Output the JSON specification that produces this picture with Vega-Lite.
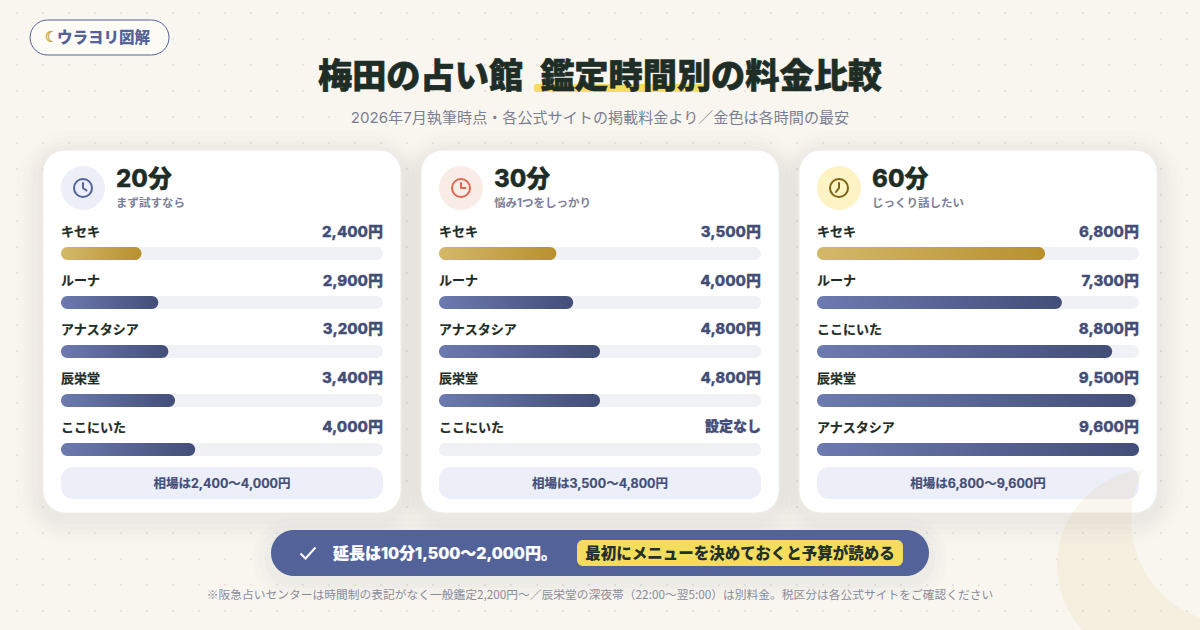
{
  "$schema": "https://vega.github.io/schema/vega-lite/v6.json",
  "width": 1200,
  "height": 630,
  "padding": 0,
  "autosize": {"type": "none"},
  "background": "#f9f6ef",
  "config": {
    "view": {"stroke": null},
    "font": "Inter, 'Noto Sans CJK JP', sans-serif"
  },
  "datasets": {
    "cards": [
      {"card": "20分", "note": "まず試すなら", "range": "相場は2,400〜4,000円"},
      {"card": "30分", "note": "悩み1つをしっかり", "range": "相場は3,500〜4,800円"},
      {"card": "60分", "note": "じっくり話したい", "range": "相場は6,800〜9,600円"}
    ],
    "prices": [
      {"card": "20分", "rank": 1, "name": "キセキ", "price": 2400, "label": "2,400円"},
      {"card": "20分", "rank": 2, "name": "ルーナ", "price": 2900, "label": "2,900円"},
      {"card": "20分", "rank": 3, "name": "アナスタシア", "price": 3200, "label": "3,200円"},
      {"card": "20分", "rank": 4, "name": "辰栄堂", "price": 3400, "label": "3,400円"},
      {"card": "20分", "rank": 5, "name": "ここにいた", "price": 4000, "label": "4,000円"},
      {"card": "30分", "rank": 1, "name": "キセキ", "price": 3500, "label": "3,500円"},
      {"card": "30分", "rank": 2, "name": "ルーナ", "price": 4000, "label": "4,000円"},
      {"card": "30分", "rank": 3, "name": "アナスタシア", "price": 4800, "label": "4,800円"},
      {"card": "30分", "rank": 4, "name": "辰栄堂", "price": 4800, "label": "4,800円"},
      {"card": "30分", "rank": 5, "name": "ここにいた", "price": null, "label": "設定なし"},
      {"card": "60分", "rank": 1, "name": "キセキ", "price": 6800, "label": "6,800円"},
      {"card": "60分", "rank": 2, "name": "ルーナ", "price": 7300, "label": "7,300円"},
      {"card": "60分", "rank": 3, "name": "ここにいた", "price": 8800, "label": "8,800円"},
      {"card": "60分", "rank": 4, "name": "辰栄堂", "price": 9500, "label": "9,500円"},
      {"card": "60分", "rank": 5, "name": "アナスタシア", "price": 9600, "label": "9,600円"}
    ],
    "dots": [
      {"dot": -3.9082}, {"dot": -3.3776}, {"dot": -2.8469}, {"dot": -2.3163}, {"dot": -1.7857}, {"dot": -1.2551},
      {"dot": -0.7245}, {"dot": -0.1939}, {"dot": 0.3367}, {"dot": 0.8673}, {"dot": 1.398}, {"dot": 1.9286},
      {"dot": 2.4592}, {"dot": 2.9898}, {"dot": 3.5204}, {"dot": 4.051}, {"dot": 4.5816}, {"dot": 5.1122},
      {"dot": 5.6429}, {"dot": 6.1735}, {"dot": 6.7041}, {"dot": 7.2347}, {"dot": 7.7653}, {"dot": 8.2959}
    ],
    "one": [{"id": 1}]
  },
  "data": {"name": "one"},
  "layer": [
    {
      "data": {"name": "dots"},
      "mark": {"type": "rule", "stroke": "#dfddd7", "strokeWidth": 1.8, "strokeCap": "round", "strokeDash": [0, 26], "strokeDashOffset": 13},
      "encoding": {
        "y": {"field": "dot", "type": "quantitative", "axis": null, "scale": {"domain": [-4.1735, 8.6837], "reverse": true, "nice": false, "zero": false, "padding": 0}}
      }
    },
    {
      "data": {"name": "cards"},
      "mark": {"type": "rect", "cornerRadius": 30, "fill": "#2f3650", "stroke": "#2f3650", "strokeWidth": 52, "opacity": 0.004, "xOffset": {"expr": "indexof(['20分','30分','60分'],datum.card)*378"}, "x2Offset": {"expr": "indexof(['20分','30分','60分'],datum.card)*378"}},
      "encoding": {
        "x": {"datum": -537, "axis": null, "scale": {"domain": [-1818.6, 33957.8], "nice": false, "zero": false, "padding": 0}},
        "x2": {"datum": 10137},
        "y": {"datum": -0.99},
        "y2": {"datum": 6.418}
      }
    },
    {
      "data": {"name": "cards"},
      "mark": {"type": "rect", "cornerRadius": 28, "fill": "#2f3650", "stroke": "#2f3650", "strokeWidth": 40, "opacity": 0.005, "xOffset": {"expr": "indexof(['20分','30分','60分'],datum.card)*378"}, "x2Offset": {"expr": "indexof(['20分','30分','60分'],datum.card)*378"}},
      "encoding": {
        "x": {"datum": -537},
        "x2": {"datum": 10137},
        "y": {"datum": -0.99},
        "y2": {"datum": 6.418}
      }
    },
    {
      "data": {"name": "cards"},
      "mark": {"type": "rect", "cornerRadius": 26, "fill": "#2f3650", "stroke": "#2f3650", "strokeWidth": 30, "opacity": 0.006, "xOffset": {"expr": "indexof(['20分','30分','60分'],datum.card)*378"}, "x2Offset": {"expr": "indexof(['20分','30分','60分'],datum.card)*378"}},
      "encoding": {
        "x": {"datum": -537},
        "x2": {"datum": 10137},
        "y": {"datum": -0.99},
        "y2": {"datum": 6.418}
      }
    },
    {
      "data": {"name": "cards"},
      "mark": {"type": "rect", "cornerRadius": 24, "fill": "#2f3650", "stroke": "#2f3650", "strokeWidth": 20, "opacity": 0.007, "xOffset": {"expr": "indexof(['20分','30分','60分'],datum.card)*378"}, "x2Offset": {"expr": "indexof(['20分','30分','60分'],datum.card)*378"}},
      "encoding": {
        "x": {"datum": -537},
        "x2": {"datum": 10137},
        "y": {"datum": -0.99},
        "y2": {"datum": 6.418}
      }
    },
    {
      "data": {"name": "cards"},
      "mark": {"type": "rect", "cornerRadius": 22, "fill": "#2f3650", "stroke": "#2f3650", "strokeWidth": 10, "opacity": 0.008, "xOffset": {"expr": "indexof(['20分','30分','60分'],datum.card)*378"}, "x2Offset": {"expr": "indexof(['20分','30分','60分'],datum.card)*378"}},
      "encoding": {
        "x": {"datum": -537},
        "x2": {"datum": 10137},
        "y": {"datum": -0.99},
        "y2": {"datum": 6.418}
      }
    },
    {
      "data": {"name": "cards"},
      "mark": {"type": "rect", "cornerRadius": 22, "fill": "#ffffff", "stroke": "#efece6", "strokeWidth": 1, "xOffset": {"expr": "indexof(['20分','30分','60分'],datum.card)*378"}, "x2Offset": {"expr": "indexof(['20分','30分','60分'],datum.card)*378"}},
      "encoding": {
        "x": {"datum": -537},
        "x2": {"datum": 10137},
        "y": {"datum": -1.112},
        "y2": {"datum": 6.296}
      }
    },
    {
      "data": {"name": "cards"},
      "mark": {"type": "rect", "cornerRadius": 12, "fill": "#eceff8", "xOffset": {"expr": "indexof(['20分','30分','60分'],datum.card)*378"}, "x2Offset": {"expr": "indexof(['20分','30分','60分'],datum.card)*378"}},
      "encoding": {
        "x": {"datum": 0},
        "x2": {"datum": 9600},
        "y": {"datum": 5.357},
        "y2": {"datum": 6.01}
      }
    },
    {
      "data": {"name": "cards"},
      "mark": {"type": "text", "fontSize": 12.5, "fontWeight": 700, "fill": "#434e78", "stroke": "#434e78", "strokeWidth": 0.2, "align": "center", "baseline": "middle", "xOffset": {"expr": "indexof(['20分','30分','60分'],datum.card)*378"}},
      "encoding": {
        "x": {"datum": 4800},
        "y": {"datum": 5.714},
        "text": {"field": "range"}
      }
    },
    {
      "data": {"name": "cards"},
      "mark": {"type": "point", "shape": "circle", "size": 1936, "filled": true, "opacity": 1, "xOffset": {"expr": "indexof(['20分','30分','60分'],datum.card)*378"}},
      "encoding": {
        "x": {"datum": 656},
        "y": {"datum": -0.337},
        "fill": {"field": "card", "type": "nominal", "legend": null, "scale": {"domain": ["20分", "30分", "60分"], "range": ["#eceff8", "#f9ece7", "#fdf3c4"]}}
      }
    },
    {
      "data": {"name": "cards"},
      "mark": {"type": "point", "size": 4, "filled": false, "strokeWidth": 2, "opacity": 1, "strokeCap": "round", "strokeJoin": "round", "xOffset": {"expr": "indexof(['20分','30分','60分'],datum.card)*378"}},
      "encoding": {
        "x": {"datum": 656},
        "y": {"datum": -0.337},
        "stroke": {"field": "card", "type": "nominal", "legend": null, "scale": {"domain": ["20分", "30分", "60分"], "range": ["#53639a", "#e0664f", "#7a6510"]}},
        "shape": {"field": "card", "type": "nominal", "legend": null, "scale": {"domain": ["20分", "30分", "60分"], "range": [
          "M-9,0A9,9,0,1,0,9,0A9,9,0,1,0,-9,0ZM0,-5L0,0L3.5,2.5",
          "M-9,0A9,9,0,1,0,9,0A9,9,0,1,0,-9,0ZM0,-5L0,0L4.5,0",
          "M-9,0A9,9,0,1,0,9,0A9,9,0,1,0,-9,0ZM0,-5L0,0L-3,4"
        ]}}
      }
    },
    {
      "data": {"name": "cards"},
      "mark": {"type": "text", "fontSize": 24, "fontWeight": 800, "fill": "#1f2d27", "stroke": "#1f2d27", "strokeWidth": 0.3, "align": "left", "baseline": "middle", "xOffset": {"expr": "indexof(['20分','30分','60分'],datum.card)*378"}},
      "encoding": {
        "x": {"datum": 1640},
        "y": {"datum": -0.51},
        "text": {"field": "card"}
      }
    },
    {
      "data": {"name": "cards"},
      "mark": {"type": "text", "fontSize": 11.5, "fontWeight": 700, "fill": "#7d8098", "align": "left", "baseline": "middle", "xOffset": {"expr": "indexof(['20分','30分','60分'],datum.card)*378"}},
      "encoding": {
        "x": {"datum": 1640},
        "y": {"datum": -0.02},
        "text": {"field": "note"}
      }
    },
    {
      "data": {"name": "prices"},
      "mark": {"type": "bar", "orient": "horizontal", "size": 13, "cornerRadius": 6.5, "fill": "#f0f1f5", "xOffset": {"expr": "indexof(['20分','30分','60分'],datum.card)*378"}, "x2Offset": {"expr": "indexof(['20分','30分','60分'],datum.card)*378"}},
      "encoding": {
        "x": {"datum": 0},
        "x2": {"datum": 9600},
        "y": {"field": "rank", "type": "quantitative"}
      }
    },
    {
      "data": {"name": "prices"},
      "transform": [{"filter": "datum.price != null && datum.rank > 1"}],
      "mark": {
        "type": "bar",
        "orient": "horizontal",
        "size": 13,
        "cornerRadius": 6.5,
        "xOffset": {"expr": "indexof(['20分','30分','60分'],datum.card)*378"},
        "x2Offset": {"expr": "indexof(['20分','30分','60分'],datum.card)*378"},
        "fill": {"gradient": "linear", "x1": 0, "x2": 1, "y1": 0, "y2": 0, "stops": [{"offset": 0, "color": "#6c7ab0"}, {"offset": 1, "color": "#434e78"}]}
      },
      "encoding": {
        "x": {"field": "price", "type": "quantitative"},
        "x2": {"datum": 0},
        "y": {"field": "rank", "type": "quantitative"}
      }
    },
    {
      "data": {"name": "prices"},
      "transform": [{"filter": "datum.rank == 1"}],
      "mark": {
        "type": "bar",
        "orient": "horizontal",
        "size": 13,
        "cornerRadius": 6.5,
        "xOffset": {"expr": "indexof(['20分','30分','60分'],datum.card)*378"},
        "x2Offset": {"expr": "indexof(['20分','30分','60分'],datum.card)*378"},
        "fill": {"gradient": "linear", "x1": 0, "x2": 1, "y1": 0, "y2": 0, "stops": [{"offset": 0, "color": "#d4b86a"}, {"offset": 1, "color": "#b8902e"}]}
      },
      "encoding": {
        "x": {"field": "price", "type": "quantitative"},
        "x2": {"datum": 0},
        "y": {"field": "rank", "type": "quantitative"}
      }
    },
    {
      "data": {"name": "prices"},
      "mark": {"type": "text", "fontSize": 13, "fontWeight": 700, "fill": "#1f2d27", "stroke": "#1f2d27", "strokeWidth": 0.2, "align": "left", "baseline": "middle", "dy": -21.5, "xOffset": {"expr": "indexof(['20分','30分','60分'],datum.card)*378"}},
      "encoding": {
        "x": {"datum": 0},
        "y": {"field": "rank", "type": "quantitative"},
        "text": {"field": "name"}
      }
    },
    {
      "data": {"name": "prices"},
      "mark": {"type": "text", "fontWeight": 800, "fill": "#434e78", "stroke": "#434e78", "strokeWidth": 0.3, "align": "right", "baseline": "middle", "dy": -22, "xOffset": {"expr": "indexof(['20分','30分','60分'],datum.card)*378"}},
      "encoding": {
        "x": {"datum": 9600},
        "y": {"field": "rank", "type": "quantitative"},
        "text": {"field": "label"},
        "size": {"condition": {"test": "datum.price == null", "value": 14}, "value": 15}
      }
    },
    {
      "mark": {"type": "point", "size": 4, "filled": true, "fill": "#d4b860", "opacity": 0.11, "stroke": null, "shape": "M-8.9,-95.6A96,96,0,1,0,75.9,58.8A104,104,0,0,1,-8.9,-95.6Z"},
      "encoding": {"x": {"datum": 32560}, "y": {"datum": 7.357}}
    },
    {
      "mark": {"type": "rect", "cornerRadius": 32, "fill": "#2f3650", "stroke": "#2f3650", "strokeWidth": 36, "opacity": 0.008},
      "encoding": {"x": {"datum": 6261}, "x2": {"datum": 25878}, "y": {"datum": 6.765}, "y2": {"datum": 7.704}}
    },
    {
      "mark": {"type": "rect", "cornerRadius": 28, "fill": "#2f3650", "stroke": "#2f3650", "strokeWidth": 24, "opacity": 0.01},
      "encoding": {"x": {"datum": 6261}, "x2": {"datum": 25878}, "y": {"datum": 6.765}, "y2": {"datum": 7.704}}
    },
    {
      "mark": {"type": "rect", "cornerRadius": 25, "fill": "#2f3650", "stroke": "#2f3650", "strokeWidth": 12, "opacity": 0.016},
      "encoding": {"x": {"datum": 6261}, "x2": {"datum": 25878}, "y": {"datum": 6.765}, "y2": {"datum": 7.704}}
    },
    {
      "mark": {"type": "rect", "cornerRadius": 23, "fill": "#53639a"},
      "encoding": {"x": {"datum": 6261}, "x2": {"datum": 25878}, "y": {"datum": 6.643}, "y2": {"datum": 7.582}}
    },
    {
      "mark": {"type": "point", "size": 4, "filled": false, "stroke": "#ffffff", "strokeWidth": 2, "opacity": 1, "shape": "M-7.5,0.5L-2.5,5.5L7.5,-5.5"},
      "encoding": {"x": {"datum": 7364}, "y": {"datum": 7.112}}
    },
    {
      "mark": {"type": "text", "text": "延長は10分1,500〜2,000円。", "fontSize": 16, "fontWeight": 800, "fill": "#ffffff", "stroke": "#ffffff", "strokeWidth": 0.2, "align": "left", "baseline": "middle"},
      "encoding": {"x": {"datum": 8109}, "y": {"datum": 7.133}}
    },
    {
      "mark": {"type": "rect", "cornerRadius": 6, "fill": "#f4dc5c"},
      "encoding": {"x": {"datum": 15384}, "x2": {"datum": 25103}, "y": {"datum": 6.847}, "y2": {"datum": 7.378}}
    },
    {
      "mark": {"type": "text", "text": "最初にメニューを決めておくと予算が読める", "fontSize": 15.5, "fontWeight": 800, "fill": "#22302a", "align": "center", "baseline": "middle"},
      "encoding": {"x": {"datum": 20244}, "y": {"datum": 7.133}}
    },
    {
      "mark": {"type": "text", "text": "※阪急占いセンターは時間制の表記がなく一般鑑定2,200円〜／辰栄堂の深夜帯（22:00〜翌5:00）は別料金。税区分は各公式サイトをご確認ください", "font": "'Noto Sans CJK JP', sans-serif", "fontSize": 11.75, "fill": "#8a8c9c", "align": "center", "baseline": "middle"},
      "encoding": {"x": {"datum": 16069.6}, "y": {"datum": 7.96}}
    },
    {
      "mark": {"type": "rect", "cornerRadius": 17.5, "fill": "#fdfbf6", "stroke": "#53639a", "strokeWidth": 1},
      "encoding": {"x": {"datum": -923}, "x2": {"datum": 3220}, "y": {"datum": -3.765}, "y2": {"datum": -3.051}}
    },
    {
      "mark": {"type": "text", "text": "☾", "font": "DejaVu Sans", "fontSize": 15, "fill": "#c9a64a", "stroke": "#c9a64a", "strokeWidth": 0.4, "align": "center", "baseline": "middle"},
      "encoding": {"x": {"datum": -283}, "y": {"datum": -3.418}}
    },
    {
      "mark": {"type": "text", "text": "ウラヨリ図解", "fontSize": 15.5, "fontWeight": 800, "fill": "#53639a", "align": "left", "baseline": "middle"},
      "encoding": {"x": {"datum": -119}, "y": {"datum": -3.398}}
    },
    {
      "mark": {"type": "rect", "cornerRadius": 2, "fill": "#f5dc62"},
      "encoding": {"x": {"datum": 14102}, "x2": {"datum": 19289}, "y": {"datum": -2.459}, "y2": {"datum": -2.296}}
    },
    {
      "mark": {"type": "text", "text": "梅田の占い館\u2002鑑定時間別の料金比較", "fontSize": 34.2, "fontWeight": 900, "fill": "#1f2d27", "stroke": "#1f2d27", "strokeWidth": 0.6, "align": "center", "baseline": "middle"},
      "encoding": {"x": {"datum": 16069.6}, "y": {"datum": -2.582}}
    },
    {
      "mark": {"type": "text", "text": "2026年7月執筆時点・各公式サイトの掲載料金より／金色は各時間の最安", "fontSize": 15.1, "fill": "#7a7f93", "align": "center", "baseline": "middle"},
      "encoding": {"x": {"datum": 16069.6}, "y": {"datum": -1.765}}
    }
  ]
}
